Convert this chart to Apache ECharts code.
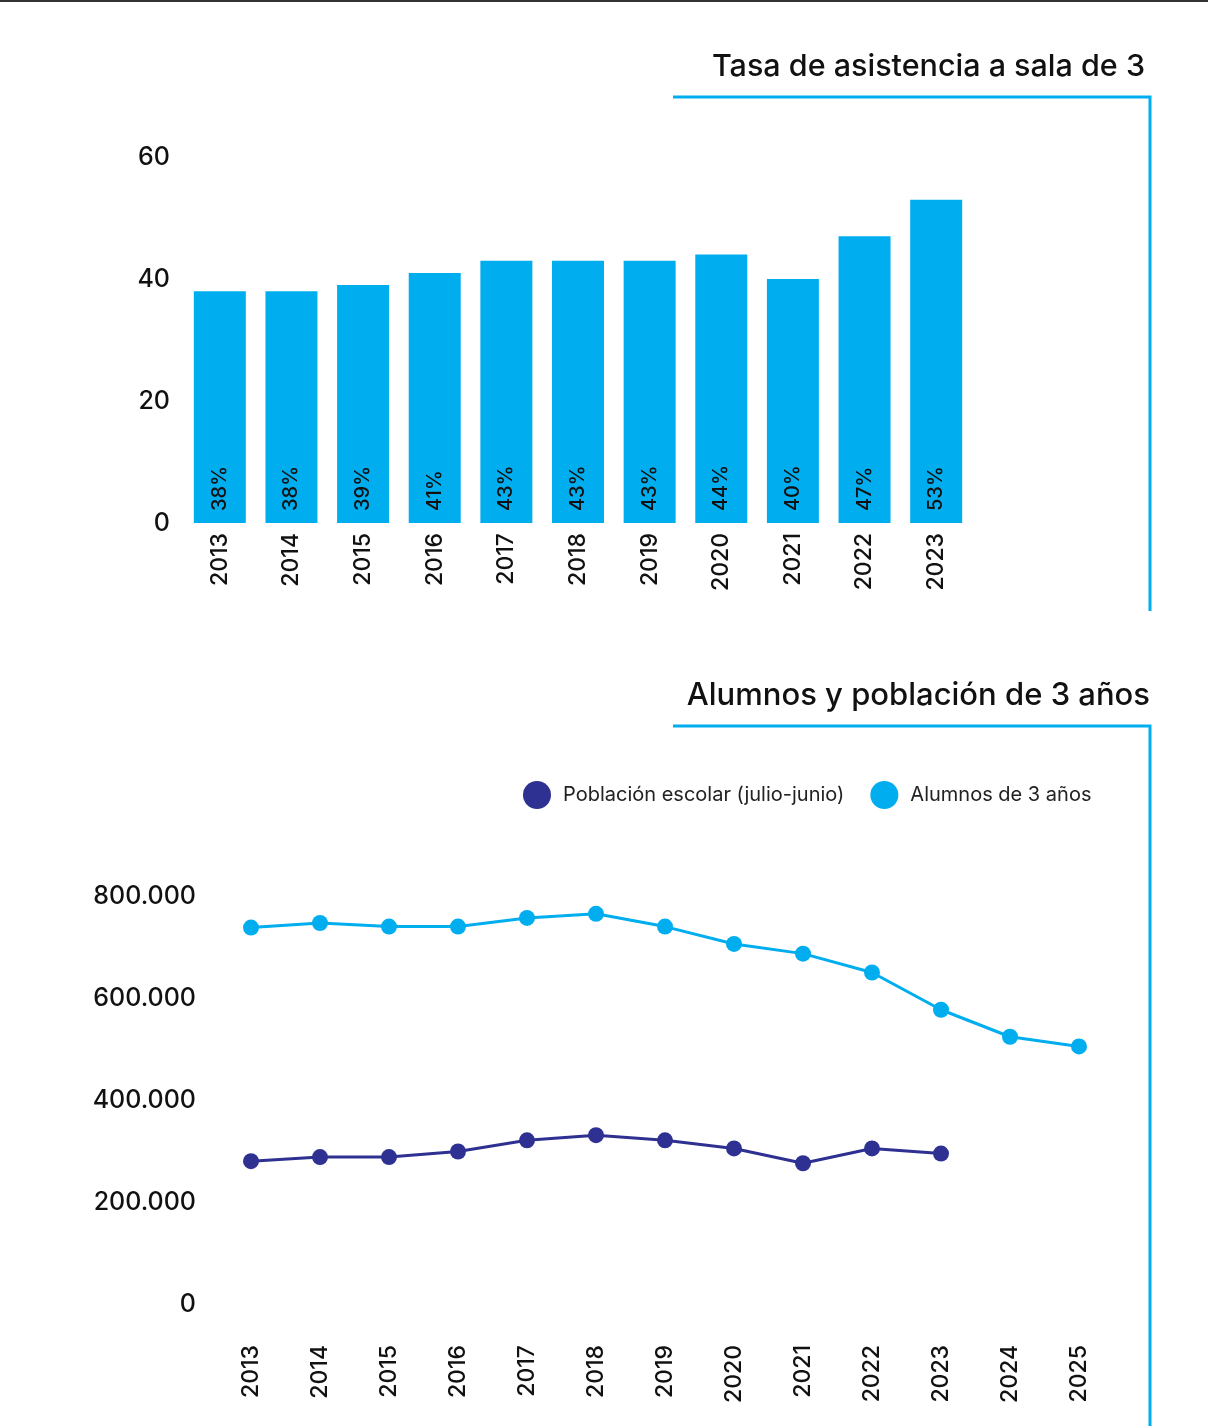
<!DOCTYPE html>
<html><head><meta charset="utf-8">
<script src="https://cdn.jsdelivr.net/npm/echarts@6/dist/echarts.min.js"></script>
<style>html,body{margin:0;padding:0;background:#fff}#c{width:1208px;height:1426px}</style>
</head><body><div id="c"></div>
<script>
const barYears = ['2013','2014','2015','2016','2017','2018','2019','2020','2021','2022','2023'];
const tasa = [38,38,39,41,43,43,43,44,40,47,53];
const lineYears = ['2013','2014','2015','2016','2017','2018','2019','2020','2021','2022','2023','2024','2025'];
const poblacion = [280000,288000,288000,299000,321000,331000,321000,305000,276000,305000,295000];
const alumnos = [738000,747000,740000,740000,757000,765000,740000,706000,687000,650000,577000,524000,505000];
const yTicksTop = [0,20,40,60];
const yTicksBottom = [0,200000,400000,600000,800000];

const CYAN = '#00AEEF', NAVY = '#2E3192';
const FONT = 'Inter, Roboto, sans-serif';
const chart = echarts.init(document.getElementById('c'), null, {renderer:'canvas'});
function fmt(v){return String(v).replace(/\B(?=(\d{3})+(?!\d))/g,'.');}
chart.setOption({
  animation:false,
  textStyle:{fontFamily:FONT},
  graphic:[
    {type:'rect', shape:{x:0,y:0,width:1208,height:2}, style:{fill:'#333'}},
    {type:'polyline', shape:{points:[[673,97],[1150,97],[1150,611]]}, style:{stroke:CYAN, lineWidth:3, fill:null}},
    {type:'polyline', shape:{points:[[673,726],[1150,726],[1150,1426]]}, style:{stroke:CYAN, lineWidth:3, fill:null}},
    {type:'text', right:63, top:51, style:{text:'Tasa de asistencia a sala de 3', font:'500 30.5px '+FONT, fill:'#111'}},
    {type:'text', right:58, top:680, style:{text:'Alumnos y población de 3 años', font:'500 31px '+FONT, fill:'#111'}}
  ],
  legend:{
    data:['Población escolar (julio-junio)','Alumnos de 3 años'],
    top:781, left:523, padding:0, icon:'circle', itemWidth:28, itemHeight:28, itemGap:26,
    textStyle:{fontSize:20, color:'#222', fontFamily:FONT, padding:[0,0,0,7]}
  },
  grid:[
    {left:184, top:157, width:788, height:366},
    {left:251, top:896, width:828, height:408}
  ],
  xAxis:[
    {type:'category', gridIndex:0, data:barYears, axisLine:{show:false}, axisTick:{show:false},
     axisLabel:{rotate:90, margin:10, fontSize:23, fontWeight:500, color:'#111', fontFamily:FONT}},
    {type:'category', gridIndex:1, data:lineYears, boundaryGap:false, axisLine:{show:false}, axisTick:{show:false},
     axisLabel:{rotate:90, margin:41, fontSize:23, fontWeight:500, color:'#111', fontFamily:FONT}}
  ],
  yAxis:[
    {type:'value', gridIndex:0, min:yTicksTop[0], max:yTicksTop[yTicksTop.length-1], interval:20, splitLine:{show:false},
     axisLabel:{margin:14, fontSize:25, fontWeight:500, color:'#111', fontFamily:FONT}},
    {type:'value', gridIndex:1, min:yTicksBottom[0], max:yTicksBottom[yTicksBottom.length-1], interval:200000, splitLine:{show:false},
     axisLabel:{margin:55, fontSize:25, fontWeight:500, color:'#111', fontFamily:FONT, formatter:fmt}}
  ],
  series:[
    {type:'bar', xAxisIndex:0, yAxisIndex:0, data:tasa, barWidth:52, itemStyle:{color:CYAN},
     label:{show:true, position:'insideBottom', rotate:90, align:'left', verticalAlign:'middle', distance:12,
            formatter:'{c}%', fontSize:20, fontWeight:500, color:'#111', fontFamily:FONT}},
    {type:'line', name:'Población escolar (julio-junio)', xAxisIndex:1, yAxisIndex:1, data:poblacion,
     symbol:'circle', symbolSize:16, lineStyle:{color:NAVY, width:3}, itemStyle:{color:NAVY}},
    {type:'line', name:'Alumnos de 3 años', xAxisIndex:1, yAxisIndex:1, data:alumnos,
     symbol:'circle', symbolSize:16, lineStyle:{color:CYAN, width:3}, itemStyle:{color:CYAN}}
  ]
});
</script></body></html>
